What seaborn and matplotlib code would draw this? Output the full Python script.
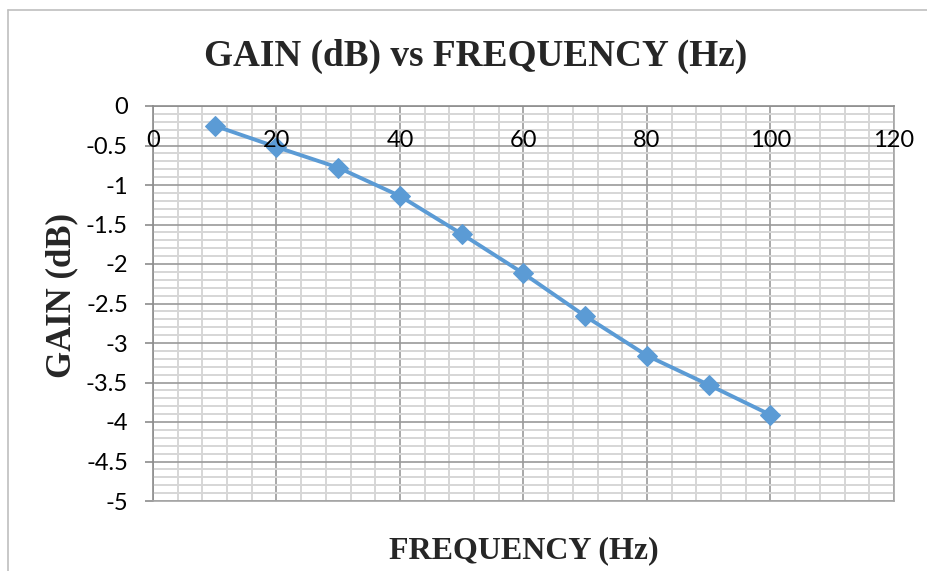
import matplotlib
matplotlib.use('Agg')
import matplotlib.pyplot as plt
import seaborn as sns
import pandas as pd
from matplotlib.ticker import MultipleLocator
from matplotlib.lines import Line2D

# ---- data ----
frequency = [10, 20, 30, 40, 50, 60, 70, 80, 90, 100]
gain = [-0.25, -0.52, -0.78, -1.14, -1.62, -2.12, -2.66, -3.16, -3.53, -3.91]
x_ticks = [0, 20, 40, 60, 80, 100, 120]
y_ticks = [0, -0.5, -1, -1.5, -2, -2.5, -3, -3.5, -4, -4.5, -5]
y_tick_labels = ['0', '-0.5', '-1', '-1.5', '-2', '-2.5', '-3', '-3.5', '-4', '-4.5', '-5']
title = 'GAIN (dB) vs FREQUENCY (Hz)'
x_label = 'FREQUENCY (Hz)'
y_label = 'GAIN (dB)'

df = pd.DataFrame({'frequency': frequency, 'gain': gain})

sns.set_theme(style='white')
plt.rcParams['font.family'] = ['Lato', 'DejaVu Sans']

W, H = 928, 571
fig = plt.figure(figsize=(W / 100, H / 100), dpi=100)
fig.patch.set_facecolor('white')

left, right, top, bottom = 153, 894, 106, 501
ax = fig.add_axes([left / W, 1 - bottom / H, (right - left) / W, (bottom - top) / H])

sns.lineplot(data=df, x='frequency', y='gain', ax=ax, color='#5B9BD5',
             linewidth=2.8, marker='D', markersize=10,
             markeredgecolor='#5B9BD5', markerfacecolor='#5B9BD5', zorder=5)

ax.set_xlim(0, 120)
ax.set_ylim(-5, 0)
ax.set_xticks(x_ticks)
ax.set_yticks(y_ticks)
ax.set_yticklabels(y_tick_labels)
ax.xaxis.set_minor_locator(MultipleLocator(4))
ax.yaxis.set_minor_locator(MultipleLocator(0.1))

ax.grid(which='minor', color='#d6d6d6', linewidth=1.4, zorder=0)
ax.grid(which='major', color='#9a9a9a', linewidth=1.2, zorder=1)
ax.set_axisbelow(True)

for s in ax.spines.values():
    s.set_color('#a6a6a6')
    s.set_linewidth(1.2)
ax.spines['left'].set_color('#8c8c8c')
ax.spines['top'].set_color('#8c8c8c')

# x tick labels sit just below the axis line at y = 0 (drawn over the grid)
ax.tick_params(axis='x', which='both', length=0, labeltop=False, labelbottom=False,
               top=False, bottom=False)
for t in x_ticks:
    ax.annotate(str(t), xy=(t, 1), xycoords=('data', 'axes fraction'),
                xytext=(0, -25), textcoords='offset points', ha='center', va='center',
                fontsize=17, color='black', zorder=10, annotation_clip=False)

ax.tick_params(axis='y', which='major', length=6, width=1.2, color='#8c8c8c',
               direction='out', left=True, pad=12, labelsize=17, labelcolor='black')
ax.tick_params(axis='y', which='minor', length=0)

ax.set_xlabel(x_label, family='Liberation Serif', fontweight='bold', fontsize=23)
ax.xaxis.set_label_coords(0.5, (bottom - 551) / (bottom - top))
ax.xaxis.label.set_va('center')
ax.set_ylabel(y_label, family='Liberation Serif', fontweight='bold', fontsize=25)
ax.yaxis.set_label_coords((62 - left) / (right - left), (bottom - 296) / (bottom - top))
ax.yaxis.label.set_va('center')

fig.text(476 / W, 1 - 56 / H, title, ha='center', va='center',
         family='Liberation Serif', fontweight='bold', fontsize=26.8)

# outer chart border (cropped on right and bottom)
fig.add_artist(Line2D([8 / W, 1.0], [1 - 10 / H, 1 - 10 / H], color='#bfbfbf', lw=1.2,
                      transform=fig.transFigure))
fig.add_artist(Line2D([8 / W, 8 / W], [1 - 10 / H, 0.0], color='#bfbfbf', lw=1.2,
                      transform=fig.transFigure))

fig.savefig('out.png', dpi=100, facecolor='white')
